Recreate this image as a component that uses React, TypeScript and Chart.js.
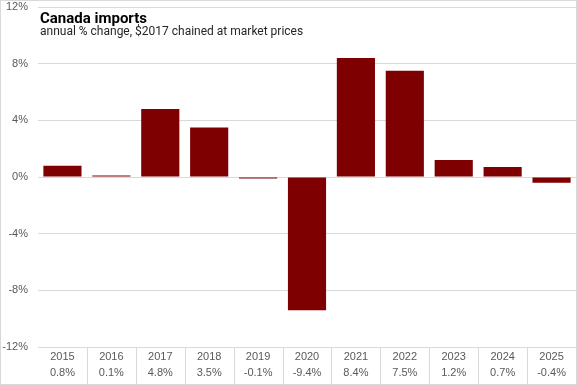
import React, { useEffect, useRef } from "react";
import { Chart, registerables } from "chart.js";

Chart.register(...registerables);

const years = ["2015", "2016", "2017", "2018", "2019", "2020", "2021", "2022", "2023", "2024", "2025"];
const values = [0.8, 0.1, 4.8, 3.5, -0.1, -9.4, 8.4, 7.5, 1.2, 0.7, -0.4];
const yTicks = [-12, -8, -4, 0, 4, 8, 12];
const titleText = "Canada imports";
const subtitleText = "annual % change, $2017 chained at market prices";

const GRID = "#d9d9d9";
const BAR = "#7f0000";
const TICK = "#595959";

const decorPlugin = {
  id: "decor",
  afterDraw(chart: any) {
    const ctx = chart.ctx;
    const x = chart.scales.x;
    const area = chart.chartArea;
    ctx.save();
    ctx.strokeStyle = GRID;
    ctx.lineWidth = 1;
    for (let i = 1; i < years.length; i++) {
      const px = Math.round((x.getPixelForValue(i - 1) + x.getPixelForValue(i)) / 2) + 0.5;
      ctx.beginPath();
      ctx.moveTo(px, area.bottom);
      ctx.lineTo(px, chart.height);
      ctx.stroke();
    }
    ctx.strokeRect(0.5, 0.5, chart.width - 1, chart.height - 1);
    ctx.fillStyle = "#000000";
    ctx.textBaseline = "alphabetic";
    ctx.textAlign = "left";
    ctx.font = "bold 15px Roboto";
    ctx.fillText(titleText, 40, 23);
    ctx.fillStyle = "#262626";
    ctx.font = "12px Roboto";
    ctx.fillText(subtitleText, 40, 35);
    ctx.restore();
  },
};

export default function App() {
  const ref = useRef<HTMLCanvasElement | null>(null);
  useEffect(() => {
    document.body.style.margin = "0";
    const chart = new Chart(ref.current as HTMLCanvasElement, {
      type: "bar",
      data: {
        labels: years.map((y, i) => [y, values[i].toFixed(1) + "%"]),
        datasets: [
          {
            data: values,
            backgroundColor: BAR,
            barPercentage: 0.78,
            categoryPercentage: 1,
          },
        ],
      },
      options: {
        animation: false,
        responsive: false,
        layout: { padding: { top: 7, right: 1, left: 0, bottom: 0 } },
        plugins: { legend: { display: false }, tooltip: { enabled: false } },
        scales: {
          x: {
            grid: { display: false, drawTicks: false },
            border: { display: true, color: GRID },
            ticks: {
              color: TICK,
              font: { family: "Liberation Sans", size: 11, lineHeight: 16 / 11 },
              padding: 2,
              maxRotation: 0,
              autoSkip: false,
            },
            afterFit(scale: any) {
              scale.height = 38;
              scale.paddingLeft = 0;
              scale.paddingRight = 0;
            },
          },
          y: {
            min: -12,
            max: 12,
            afterBuildTicks(scale: any) {
              scale.ticks = yTicks.map((v) => ({ value: v }));
            },
            grid: { color: GRID, drawTicks: false },
            border: { display: false },
            ticks: {
              color: TICK,
              font: { family: "Liberation Sans", size: 11 },
              padding: 10,
              callback: (v: any) => v + "%",
            },
            afterFit(scale: any) {
              scale.width = 38;
              scale.paddingTop = 0;
              scale.paddingBottom = 0;
            },
          },
        },
      },
      plugins: [decorPlugin],
    });
    return () => chart.destroy();
  }, []);
  return (
    <div style={{ width: 577, height: 385, background: "#fff" }}>
      <canvas ref={ref} width={577} height={385} style={{ display: "block" }} />
    </div>
  );
}
